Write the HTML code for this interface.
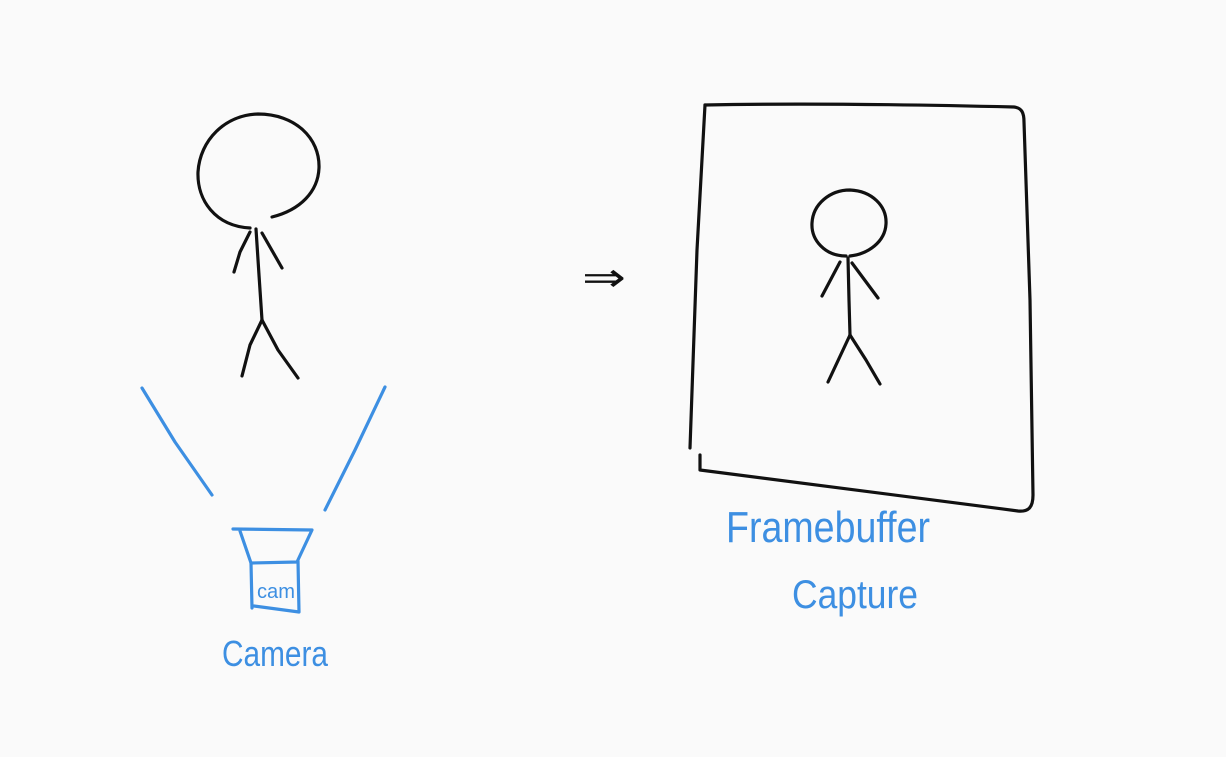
<!DOCTYPE html>
<html><head><meta charset="utf-8">
<style>
html,body{margin:0;padding:0;background:#fafafa;}
svg{display:block;}
text{font-family:"Liberation Sans",sans-serif;}
</style></head>
<body>
<svg width="1226" height="757" viewBox="0 0 1226 757">
<rect width="1226" height="757" fill="#fafafa"/>
<g fill="none" stroke="#111" stroke-width="3.2" stroke-linecap="round" stroke-linejoin="round">
  <path d="M250,228 C215,226 197,200 198,172 C200,140 225,115 258,114 C295,114 320,138 319,168 C318,192 300,210 272,217"/>
  <path d="M256,229 L259,275 L262,320"/>
  <path d="M250,232 L240,252 L234,272"/>
  <path d="M262,233 L282,268"/>
  <path d="M262,320 L250,345 L242,376"/>
  <path d="M262,320 L278,350 L298,378"/>
</g>
<g fill="none" stroke="#3d8fe2" stroke-width="3.2" stroke-linecap="round" stroke-linejoin="round">
  <path d="M142,388 L175,442 L212,495"/>
  <path d="M385,387 L355,450 L325,510"/>
  <path d="M233,529 L312,530 L297,562 L251,563 L240,531"/>
  <path d="M251,563 L252,608 M254,606 L299,612 L298,561"/>
</g>
<text x="257" y="598" font-size="20" fill="#3d8fe2" textLength="38" lengthAdjust="spacingAndGlyphs">cam</text>
<text x="222" y="666" font-size="36" fill="#3d8fe2" textLength="106" lengthAdjust="spacingAndGlyphs">Camera</text>
<text x="582" y="291" font-size="40" fill="#111" textLength="44" lengthAdjust="spacingAndGlyphs">⇒</text>
<g fill="none" stroke="#111" stroke-width="3.2" stroke-linecap="round" stroke-linejoin="round">
  <path d="M705,105 C800,103 930,105 1014,107 C1022,108 1024,113 1024,122 L1030,300 L1033,495 C1033,508 1028,512 1018,511 C900,495 780,480 700,470 L700,455"/>
  <path d="M705,105 L697,250 L690,448"/>
</g>
<g fill="none" stroke="#111" stroke-width="3.2" stroke-linecap="round" stroke-linejoin="round">
  <path d="M846,256 C825,256 811,240 812,223 C813,204 830,190 850,190 C872,191 887,206 886,224 C885,242 868,254 850,256"/>
  <path d="M848,258 L849,300 L850,335"/>
  <path d="M840,262 L822,296"/>
  <path d="M852,263 L878,298"/>
  <path d="M850,335 L828,382"/>
  <path d="M850,335 L866,360 L880,384"/>
</g>
<text x="726" y="542" font-size="44" fill="#3d8fe2" textLength="204" lengthAdjust="spacingAndGlyphs">Framebuffer</text>
<text x="792" y="608" font-size="40" fill="#3d8fe2" textLength="126" lengthAdjust="spacingAndGlyphs">Capture</text>
</svg>
</body></html>
